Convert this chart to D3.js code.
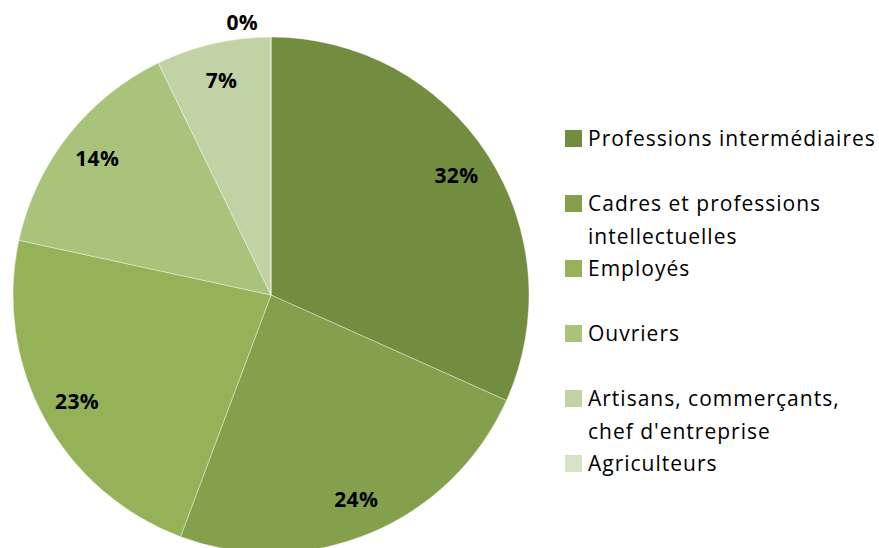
<!DOCTYPE html>
<html>
<head>
<meta charset="utf-8">
<script src="https://cdn.jsdelivr.net/npm/d3@7"></script>
<style>
  body { margin: 0; background: #fff; }
  svg { display: block; }
  .slice-label { font-family: "Open Sans", Lato, sans-serif; font-weight: bold; font-size: 21px; letter-spacing: 0.3px; fill: #000; }
  .legend-label { font-family: "Open Sans", Lato, sans-serif; font-size: 21px; letter-spacing: 1px; fill: #000; }
</style>
</head>
<body>
<svg id="chart" width="879" height="548"></svg>
<script>
// Chart data
var categories = ["Professions intermédiaires", "Cadres et professions intellectuelles", "Employés",
                  "Ouvriers", "Artisans, commerçants, chef d'entreprise", "Agriculteurs"];
var legendLines = [["Professions intermédiaires"], ["Cadres et professions", "intellectuelles"], ["Employés"],
                   ["Ouvriers"], ["Artisans, commerçants,", "chef d'entreprise"], ["Agriculteurs"]];
var shares = [31.7, 24.0, 22.7, 14.4, 7.2, 0.0];
var sliceColors = ["#728c40", "#84a04d", "#95b259", "#a9c47a", "#c1d3a5", "#d6e1c6"];

// Layout
var WIDTH = 879, HEIGHT = 548;
var CX = 271, CY = 295, RADIUS = 258;
var LABEL_RADIUS = 221;
var OUTSIDE_LABEL_RADIUS = 275;
var LEGEND_X = 565, LEGEND_Y = 130, LEGEND_STEP = 65, LEGEND_LINE = 32.5, SQ = 17;

var svg = d3.select("#chart");
var total = d3.sum(shares);

var pie = d3.pie()
    .sort(null)
    .value(d => d);

var arcs = pie(shares);

var arc = d3.arc()
    .innerRadius(0)
    .outerRadius(RADIUS);

var pieGroup = svg.append("g")
    .attr("transform", "translate(" + CX + "," + CY + ")");

// Render slices
pieGroup.selectAll("path.slice")
    .data(arcs)
    .enter()
    .append("path")
    .attr("class", "slice")
    .attr("d", arc)
    .attr("fill", (d, i) => sliceColors[i])
    .attr("stroke", "#ffffff")
    .attr("stroke-width", 0.6)
    .attr("stroke-opacity", 0.6);

// Render percentage labels
function labelPos(d) {
    var mid = (d.startAngle + d.endAngle) / 2;
    var r = LABEL_RADIUS;
    if (d.value / total < 0.01) {
        // tiny slice: label pushed outside, slightly left of the top
        r = OUTSIDE_LABEL_RADIUS;
        mid = d.startAngle - 0.105;
    }
    return [Math.sin(mid) * r, -Math.cos(mid) * r];
}

pieGroup.selectAll("text.slice-label")
    .data(arcs)
    .enter()
    .append("text")
    .attr("class", "slice-label")
    .attr("text-anchor", "middle")
    .attr("dominant-baseline", "central")
    .attr("x", d => labelPos(d)[0])
    .attr("y", d => labelPos(d)[1])
    .text(d => Math.round(d.value / total * 100) + "%");

// Render legend
var legend = svg.append("g")
    .attr("class", "legend");

var items = legend.selectAll("g.item")
    .data(categories)
    .enter()
    .append("g")
    .attr("class", "item")
    .attr("transform", (d, i) => "translate(" + LEGEND_X + "," + (LEGEND_Y + i * LEGEND_STEP) + ")");

items.append("rect")
    .attr("width", SQ)
    .attr("height", SQ)
    .attr("fill", (d, i) => sliceColors[i]);

items.each(function (d, i) {
    var t = d3.select(this).append("text")
        .attr("class", "legend-label")
        .attr("x", 23)
        .attr("y", 16);
    legendLines[i].forEach(function (line, j) {
        t.append("tspan")
            .attr("x", 23)
            .attr("dy", j === 0 ? 0 : LEGEND_LINE)
            .text(line);
    });
});
</script>
</body>
</html>
